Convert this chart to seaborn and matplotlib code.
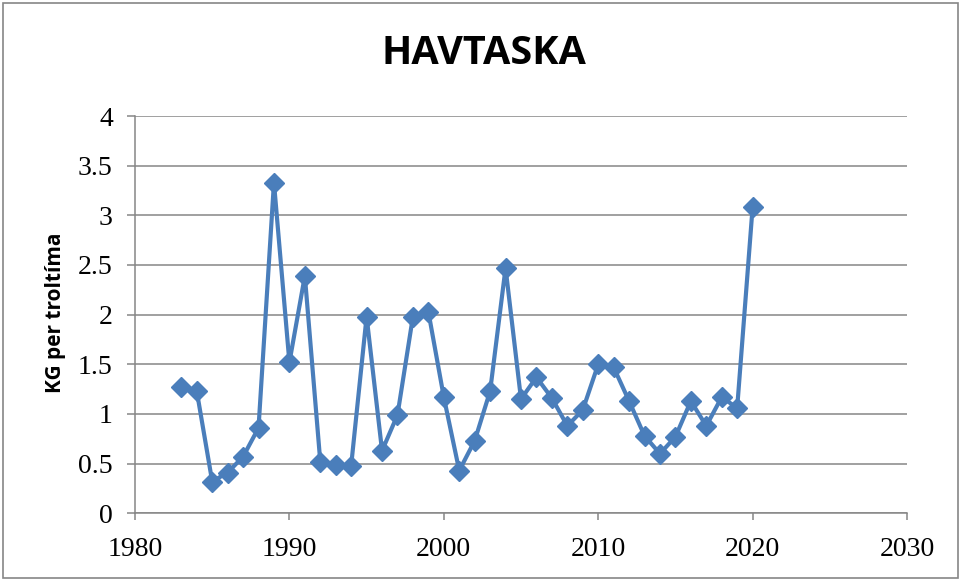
import numpy as np
import pandas as pd
import seaborn as sns
import matplotlib.pyplot as plt
from matplotlib.patches import Rectangle

# data
years = list(range(1983, 2021))
kg_per_hour = [1.27, 1.23, 0.32, 0.41, 0.57, 0.86, 3.33, 1.52, 2.39, 0.52,
               0.49, 0.48, 1.98, 0.63, 0.99, 1.98, 2.03, 1.17, 0.43, 0.73,
               1.23, 2.47, 1.15, 1.37, 1.16, 0.88, 1.04, 1.50, 1.47, 1.13,
               0.78, 0.60, 0.77, 1.13, 0.88, 1.17, 1.06, 3.08]
x_ticks = [1980, 1990, 2000, 2010, 2020, 2030]
y_ticks = [0, 0.5, 1, 1.5, 2, 2.5, 3, 3.5, 4]
y_labels = ["0", "0.5", "1", "1.5", "2", "2.5", "3", "3.5", "4"]

df = pd.DataFrame({"year": years, "kg": kg_per_hour})

sns.set_style("white")
grey = "#868686"
blue = "#4a7ebb"

fig = plt.figure(figsize=(9.62, 5.81), dpi=100)
ax = fig.add_axes([135 / 962, 1 - 513.3 / 581, (907 - 135) / 962, (513.3 - 116) / 581])

sns.lineplot(data=df, x="year", y="kg", ax=ax, color=blue, linewidth=3,
             marker="D", markersize=10, markeredgecolor=blue, markeredgewidth=1)

ax.set_xlim(1980, 2030)
ax.set_ylim(0, 4)
ax.set_xticks(x_ticks)
ax.set_xticklabels([str(t) for t in x_ticks], family="Liberation Serif", fontsize=20, color="black")
ax.set_yticks(y_ticks)
ax.set_yticklabels(y_labels, family="Liberation Serif", fontsize=20, color="black")
ax.tick_params(axis="y", length=6, width=1.1, color=grey, direction="out", pad=10, left=True)
ax.tick_params(axis="x", length=5, width=1.1, color=grey, direction="out", pad=12, bottom=True)
ax.grid(axis="y", color=grey, linewidth=1.1)
ax.set_axisbelow(True)
for s in ["top", "right"]:
    ax.spines[s].set_visible(False)
for s in ["left", "bottom"]:
    ax.spines[s].set_color(grey)
    ax.spines[s].set_linewidth(1.1)

ax.set_xlabel("")
ax.set_ylabel("")
fig.text(484 / 962, 1 - 54 / 581, "HAVTASKA", ha="center", va="center", color="black",
         family="Open Sans", fontweight="bold", fontsize=28.5)
fig.text(55 / 962, 1 - 313 / 581, "KG per troltíma", ha="center", va="center", color="black",
         rotation=90, family="Open Sans", fontweight="bold", fontsize=15)

# chart frame
fig.patches.append(Rectangle((3 / 962, 3 / 581), 955 / 962, 575 / 581, transform=fig.transFigure,
                             fill=False, edgecolor=grey, linewidth=1.2))

fig.savefig("out.png", dpi=100)
